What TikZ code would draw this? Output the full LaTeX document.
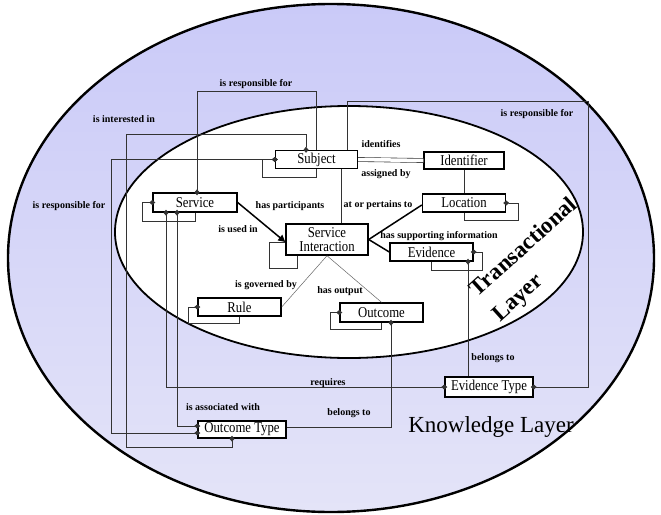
\documentclass[tikz,border=0pt]{standalone}
\usepackage{fontspec}
\setmainfont{Liberation Serif}
\newfontfamily\boxfont[FakeStretch=0.85]{Liberation Serif}
\usetikzlibrary{arrows.meta,calc}
\definecolor{knowtop}{HTML}{CACAF8}
\definecolor{knowbot}{HTML}{E4E4F8}
\definecolor{wire}{HTML}{333333}
\tikzset{
  classbox/.style = {rectangle, draw=black, line width=1.4pt, fill=white, inner sep=1pt,
                     minimum height=18pt, font=\boxfont\fontsize{15}{14}\selectfont, align=center},
  link/.style     = {draw=wire, line width=0.7pt},
  strong/.style   = {draw=black, line width=1.5pt},
  dfrom/.style    = {{Diamond[length=6pt,width=5pt]}-, shorten <=-3pt},
  dto/.style      = {-{Diamond[length=6pt,width=5pt]}, shorten >=-3pt},
  dboth/.style    = {{Diamond[length=6pt,width=5pt]}-{Diamond[length=6pt,width=5pt]},
                     shorten <=-3pt, shorten >=-3pt},
  lbl/.style      = {font=\bfseries\fontsize{10}{11}\selectfont, inner sep=0pt},
  layer/.style    = {font=\bfseries\fontsize{23}{33.5}\selectfont, inner sep=0pt, align=left}
}

\begin{document}
\begin{tikzpicture}[x=1pt, y=-1pt]
    \useasboundingbox (0,0) rectangle (661,514);
    \draw[line width=2.4pt, top color=knowtop, bottom color=knowbot] (331,258) ellipse [x radius=323pt, y radius=254pt];
    \draw[line width=1.8pt, fill=white] (349,232) ellipse [x radius=234pt, y radius=126pt];

    \node[classbox, minimum width=82pt] (subj) at (316.5,159.5) {Subject};
    \node[classbox, minimum width=80pt, minimum height=17pt] (ident) at (464,160.5) {Identifier};
    \node[classbox, minimum width=84pt, minimum height=19pt] (serv) at (195,202.5) {Service};
    \node[classbox, minimum width=83pt] (loc) at (464,203) {Location};
    \node[classbox, minimum width=82pt, minimum height=31pt] (si) at (327,239.5) {Service\\Interaction};
    \node[classbox, minimum width=83pt] (evid) at (431.5,252) {Evidence};
    \node[classbox, minimum width=83pt] (rule) at (239.5,307) {Rule};
    \node[classbox, minimum width=83pt, minimum height=19pt] (outc) at (381.5,312.5) {Outcome};
    \node[classbox, minimum width=88pt, minimum height=20pt] (evt) at (489,387) {Evidence Type};
    \node[classbox, minimum width=88pt, minimum height=17pt] (outt) at (242,429.5) {Outcome Type};

    \draw[link, dfrom] (subj.west) -- ++(-12,0) -- ++(0,18) -| (subj.south);
    \draw[link, dfrom] (serv.west) -- ++(-10,0) -- ++(0,18.5) -| (serv.south);
    \draw[link, dfrom] (loc.east) -- ++(12,0) -- ++(0,17) -| (loc.south);
    \draw[link, dfrom] (evid.east) -- ++(9,0) -- ++(0,18) -| (evid.south);
    \draw[link, dfrom] (rule.west) -- ++(-9,0) -- ++(0,16) -| (rule.south);
    \draw[link, dfrom] (outc.west) -- ++(-9,0) -- ++(0,16.5) -| (outc.south);
    \draw[link] ([xshift=-30pt]si.south) -- ++(0,13) -| ([xshift=-16pt,yshift=-2.5pt]si.west) -- ([yshift=-2.5pt]si.west);

    \draw[link, double=white, double distance=3.5pt, line width=0.6pt] (subj.east) -- (ident.west);
    \draw[link] (ident.south) -- (loc.north);
    \draw[link] ([xshift=25pt]subj.south) -- ([xshift=25pt]subj.south |- si.north);
    \draw[strong, -{Triangle[length=7pt,width=7pt]}] (serv.east) -- ([yshift=-2.5pt]si.west);
    \draw[strong] (si.east) -- ([yshift=-2pt]loc.west);
    \draw[strong] (si.east) -- (evid.west);
    \draw[link, draw=black!60, line width=0.5pt] (rule.east) -- (si.south);
    \draw[link, draw=black!60, line width=0.5pt] (outc.north) -- (si.south);

    \draw[link, dfrom] ([xshift=2pt]serv.north) -- ++(0,-101) -| (subj.north);
    \draw[link, dboth] ([xshift=-10.5pt]subj.north) -- ++(0,-15) -| (126,447) -| ([xshift=-10pt]outt.south);
    \draw[link, dboth] (subj.west) -| (111,433) -- ([yshift=-3.5pt]outt.west);
    \draw[link, dboth] ([xshift=-18pt]serv.south) |- ([yshift=3.5pt]outt.west);
    \draw[link, dboth] ([xshift=-29pt]serv.south) |- (evt.west);
    \draw[link, dfrom] ([xshift=9.5pt]outc.south) |- ([yshift=2.5pt]outt.east);
    \draw[link, dfrom] ([xshift=36.5pt]evid.south) -- ([xshift=36.5pt]evid.south |- evt.north);
    \draw[link, dto] ([xshift=30.5pt]subj.north) -- ++(0,-48) -| (588,387) -- (evt.east);

    \node[lbl] (lresp1) at (256,84) {is responsible for};
    \node[lbl] (linter) at (124,119) {is interested in};
    \node[lbl] (lresp2) at (69,206) {is responsible for};
    \node[lbl] (lpart) at (290,206) {has participants};
    \node[lbl] (lused) at (238,229) {is used in};
    \node[lbl] (lpert) at (378,205) {at or pertains to};
    \node[lbl] (lsupp) at (439,236) {has supporting information};
    \node[lbl] (lgov) at (266,285) {is governed by};
    \node[lbl] (lout) at (340,291) {has output};
    \node[lbl] (lreq) at (328,383) {requires};
    \node[lbl] (lassoc) at (223,407) {is associated with};
    \node[lbl] (lbel1) at (349,413) {belongs to};
    \node[lbl] (lbel2) at (493,358) {belongs to};
    \node[lbl] (lident) at (381,144) {identifies};
    \node[lbl] (lassig) at (386,174) {assigned by};
    \node[lbl] (lresp3) at (537,114) {is responsible for};

    \node[layer, rotate=42] (tlay) at (535.5,260.5) {Transactional\\Layer};
    \node[font=\fontsize{23}{23}\selectfont, inner sep=0pt] (klay) at (491,427) {Knowledge Layer};
\end{tikzpicture}
\end{document}
